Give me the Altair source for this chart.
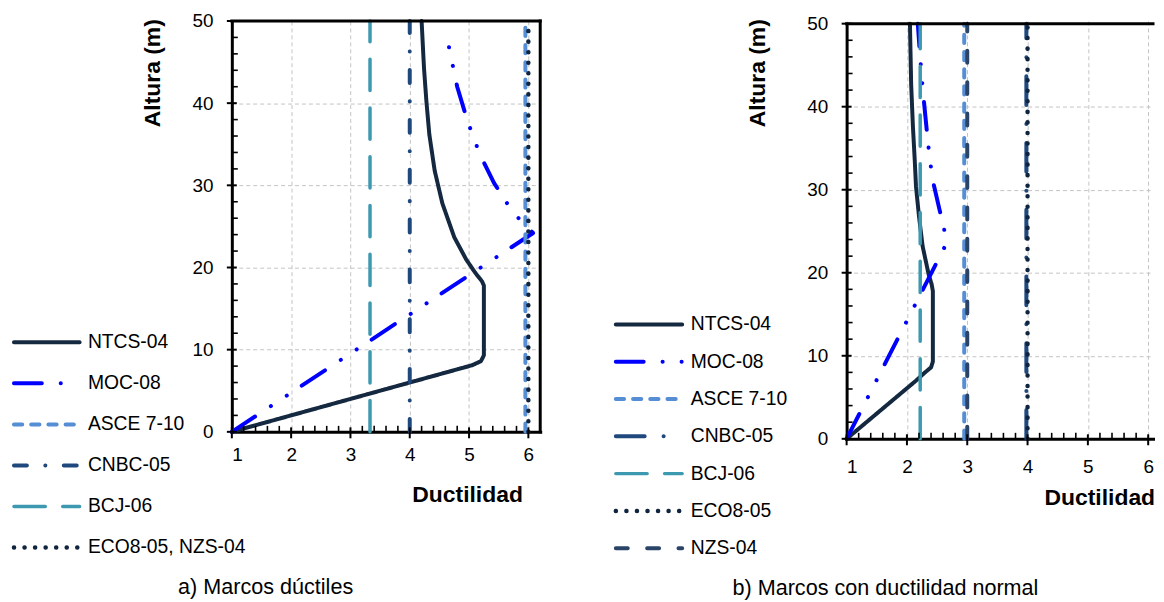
import altair as alt
import pandas as pd

# ---------------- data: a) Marcos dúctiles ----------------
a_ntcs_x = [1.0, 4.0, 4.8, 5.05, 5.2, 5.25, 5.25, 5.22, 5.1, 4.95, 4.75, 4.55, 4.42, 4.33, 4.28, 4.24, 4.2]
a_ntcs_y = [0, 6.0, 7.6, 8.1, 8.6, 9.3, 17.8, 18.3, 19.4, 21.0, 23.7, 27.8, 31.8, 36.2, 40.3, 44.3, 50]
a_moc_x = [1.0, 6.08, 5.74, 5.42, 5.18, 4.97, 4.8, 4.69, 4.63]
a_moc_y = [0, 24.2, 26.7, 30.3, 33.8, 37.9, 42.0, 45.8, 48.0]
a_asce_x = [5.95, 5.95]
a_cnbc_x = [4.0, 4.0]
a_bcj_x = [3.33, 3.33]
a_eco_nzs_x = [6.0, 6.0]
vert_y = [0, 50]

# ---------------- data: b) Marcos con ductilidad normal ----------------
b_ntcs_x = [1.0, 2.15, 2.3, 2.4, 2.43, 2.43, 2.41, 2.36, 2.26, 2.2, 2.15, 2.13, 2.1, 2.07, 2.05]
b_ntcs_y = [0, 7.0, 8.0, 8.6, 9.3, 17.8, 18.6, 19.8, 23.2, 26.8, 30.4, 33.5, 37.5, 42.7, 50]
b_moc_x = [1.0, 2.66, 2.61, 2.54, 2.42, 2.35, 2.27, 2.22, 2.18]
b_moc_y = [0, 23.6, 25.5, 27.6, 31.4, 35.6, 41.5, 45.9, 50]
b_asce_x = [2.95, 2.95]
b_cnbc_x = [3.98, 3.98]
b_bcj_x = [2.22, 2.22]
b_eco_x = [4.0, 4.0]
b_nzs_x = [3.0, 3.0]

# axis ticks
x_major = [1, 2, 3, 4, 5, 6]
x_minor = [round(1 + 0.2 * k, 1) for k in range(1, 26) if k % 5 != 0]
y_major = [0, 10, 20, 30, 40, 50]
y_minor = [v for v in range(2, 50, 2) if v % 10 != 0]

legend_a = ["NTCS-04", "MOC-08", "ASCE 7-10", "CNBC-05", "BCJ-06", "ECO8-05, NZS-04"]
legend_b = ["NTCS-04", "MOC-08", "ASCE 7-10", "CNBC-05", "BCJ-06", "ECO8-05", "NZS-04"]

# ---------------- styles ----------------
ST = {
    "NTCS-04": dict(color="#142840", w=4, dash=[1, 0]),
    "MOC-08": dict(color="#0000ff", w=4, dash=[28, 19, 0.1, 19, 0.1, 18]),
    "ASCE 7-10": dict(color="#558ed5", w=4, dash=[8.3, 9]),
    "CNBC-05a": dict(color="#1f497d", w=4, dash=[13, 18.5, 0.1, 18.5]),
    "CNBC-05b": dict(color="#1f497d", w=4, dash=[29, 19, 0.1, 19]),
    "BCJ-06": dict(color="#3d99b0", w=3.5, dash=[31.5, 17.5]),
    "ECO8-05": dict(color="#0f243e", w=4.5, dash=[0.1, 10.5]),
    "NZS-04": dict(color="#2a4468", w=4, dash=[12, 19.5]),
}

FONT = "Liberation Sans"
NARROW = "Liberation Sans"


def line_layer(xs, ys, style, xsc, ysc, xax, yax):
    df = pd.DataFrame({"x": xs, "y": ys, "i": list(range(len(xs)))})
    return alt.Chart(df).mark_line(
        color=style["color"], strokeWidth=style["w"], strokeDash=style["dash"],
        strokeCap="round", strokeJoin="round", clip=False
    ).encode(
        x=alt.X("x:Q", scale=xsc, axis=xax),
        y=alt.Y("y:Q", scale=ysc, axis=yax),
        order="i:Q",
    )


def plot_panel(series, xmax, width, height, yrange, lpx, lpy, xt, yt, caption, cap_dx, cap_off, right_border):
    xsc = alt.Scale(domain=[1, xmax], nice=False, zero=False)
    ysc = alt.Scale(domain=[0, 50], nice=False, zero=False, range=yrange)
    xax = alt.Axis(values=x_major, format="d", grid=True, gridColor="#c4c4c4", gridDash=[4, 3], gridWidth=1,
                   ticks=False, domain=True, domainColor="black", domainWidth=3, domainCap="square",
                   labelFont=FONT, labelFontSize=19, labelColor="black", labelPadding=lpx,
                   title="Ductilidad", titleFont=FONT, titleFontSize=23, titleFontWeight="bold", titleColor="black",
                   titleX=xt[0], titleY=xt[1], titleAlign="center", titleBaseline="alphabetic")
    yax = alt.Axis(values=y_major, format="d", grid=True, gridColor="#c4c4c4", gridDash=[4, 3], gridWidth=1,
                   ticks=False, domain=True, domainColor="black", domainWidth=3, domainCap="square",
                   labelFont=FONT, labelFontSize=19, labelColor="black", labelPadding=lpy,
                   title="Altura (m)", titleFont=FONT, titleFontSize=23, titleFontWeight="bold", titleColor="black",
                   titleX=yt[0], titleY=yt[1], titleAngle=270, titleAlign="center", titleBaseline="alphabetic")

    layers = []
    for xs, ys, st in series:
        layers.append(line_layer(xs, ys, st, xsc, ysc, xax, yax))

    X = lambda f: alt.X(f, scale=xsc, axis=xax)
    Y = lambda f: alt.Y(f, scale=ysc, axis=yax)

    # borders
    top = pd.DataFrame({"x": [1], "x2": [xmax], "y": [50]})
    layers.append(alt.Chart(top).mark_rule(color="black", strokeWidth=3, strokeCap="square")
                  .encode(x=X("x:Q"), x2="x2:Q", y=Y("y:Q")))
    if right_border:
        rb = pd.DataFrame({"x": [xmax], "y": [0], "y2": [50]})
        layers.append(alt.Chart(rb).mark_rule(color="black", strokeWidth=3, strokeCap="square")
                      .encode(x=X("x:Q"), y=Y("y:Q"), y2="y2:Q"))
    # ticks
    dxm = pd.DataFrame({"x": x_major, "y": [0] * len(x_major)})
    dxn = pd.DataFrame({"x": x_minor, "y": [0] * len(x_minor)})
    dym = pd.DataFrame({"x": [1] * len(y_major), "y": y_major})
    dyn = pd.DataFrame({"x": [1] * len(y_minor), "y": y_minor})
    layers.append(alt.Chart(dxm).mark_tick(orient="vertical", size=11, thickness=2, color="black", yOffset=1, opacity=1)
                  .encode(x=X("x:Q"), y=Y("y:Q")))
    layers.append(alt.Chart(dxn).mark_tick(orient="vertical", size=6, thickness=1.6, color="black", yOffset=-3, opacity=1)
                  .encode(x=X("x:Q"), y=Y("y:Q")))
    layers.append(alt.Chart(dym).mark_tick(orient="horizontal", size=10, thickness=2, color="black", opacity=1)
                  .encode(x=X("x:Q"), y=Y("y:Q")))
    layers.append(alt.Chart(dyn).mark_tick(orient="horizontal", size=6, thickness=1.6, color="black", xOffset=3, opacity=1)
                  .encode(x=X("x:Q"), y=Y("y:Q")))

    return alt.layer(*layers).properties(
        width=width, height=height,
        title=alt.TitleParams(caption, orient="bottom", anchor="middle", frame="group", dx=cap_dx, offset=cap_off,
                              font=NARROW, fontSize=21.7, fontWeight="normal", color="black"),
    )


def legend_panel(labels, keys, width, height, yrange, xrange, text_dx):
    n = len(labels)
    lx = alt.Scale(domain=[0, 1], range=xrange)
    ly = alt.Scale(domain=[0, n - 1], range=yrange)
    layers = []
    for k, key in enumerate(keys):
        st = ST[key]
        d = pd.DataFrame({"x": [0.0], "x2": [1.0], "row": [k]})
        layers.append(alt.Chart(d).mark_rule(color=st["color"], strokeWidth=st["w"], strokeDash=st["dash"],
                                             strokeCap="round")
                      .encode(x=alt.X("x:Q", scale=lx, axis=None), x2="x2:Q",
                              y=alt.Y("row:Q", scale=ly, axis=None)))
    t = pd.DataFrame({"x": [1.0] * n, "row": list(range(n)), "label": labels})
    layers.append(alt.Chart(t).mark_text(align="left", baseline="middle", dx=text_dx, font=NARROW,
                                         fontSize=19.4, color="black")
                  .encode(x=alt.X("x:Q", scale=lx, axis=None), y=alt.Y("row:Q", scale=ly, axis=None),
                          text="label:N"))
    return alt.layer(*layers).properties(width=width, height=height)


series_a = [
    (a_ntcs_x, a_ntcs_y, ST["NTCS-04"]),
    (a_moc_x, a_moc_y, ST["MOC-08"]),
    (a_asce_x, vert_y, ST["ASCE 7-10"]),
    (a_cnbc_x, vert_y, ST["CNBC-05a"]),
    (a_bcj_x, vert_y, ST["BCJ-06"]),
    (a_eco_nzs_x, vert_y, ST["ECO8-05"]),
]
series_b = [
    (b_ntcs_x, b_ntcs_y, ST["NTCS-04"]),
    (b_moc_x, b_moc_y, ST["MOC-08"]),
    (b_asce_x, vert_y, ST["ASCE 7-10"]),
    (b_cnbc_x, vert_y, ST["CNBC-05b"]),
    (b_bcj_x, vert_y, ST["BCJ-06"]),
    (b_eco_x, vert_y, ST["ECO8-05"]),
    (b_nzs_x, vert_y, ST["NZS-04"]),
]

plot_a = plot_panel(series_a, 6.2, 310, 413, [413, 0], 14, 19, (236.5, 70), (-72.6, 52),
                    "a) Marcos dúctiles", -121, 71.5, True)
plot_b = plot_panel(series_b, 6.08, 308, 420, [420, 2.7], 18.5, 19, (254, 66.5), (-82.7, 52),
                    "b) Marcos con ductilidad normal", -115, 68.5, False)

leg_a = legend_panel(legend_a, ["NTCS-04", "MOC-08", "ASCE 7-10", "CNBC-05a", "BCJ-06", "ECO8-05"],
                     147, 413, [323, 529.3], [2, 68], 8.3)
leg_b = legend_panel(legend_b, ["NTCS-04", "MOC-08", "ASCE 7-10", "CNBC-05b", "BCJ-06", "ECO8-05", "NZS-04"],
                     160, 413, [305, 530], [2, 68.7], 8.6)

chart = alt.hconcat(leg_a, plot_a, leg_b, plot_b, spacing=74, bounds="flush").properties(
    padding={"left": 3, "top": 2.5, "right": 0, "bottom": 0},
    background="white",
).configure_view(stroke=None)

chart.save("out.html", embed_options={"renderer": "svg", "actions": False})
